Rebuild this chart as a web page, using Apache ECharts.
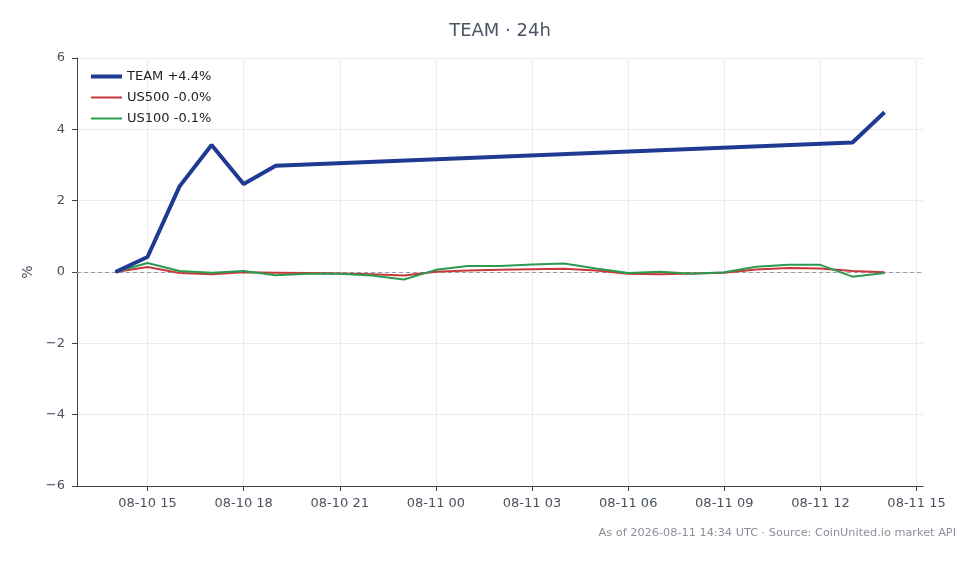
<!DOCTYPE html>
<html>
<head>
<meta charset="utf-8">
<title>TEAM · 24h</title>
<script src="https://cdn.jsdelivr.net/npm/echarts@6/dist/echarts.min.js"></script>
<style>
  html, body { margin: 0; padding: 0; background: #fff; }
  #chart { width: 980px; height: 564px; }
</style>
</head>
<body>
<div id="chart"></div>
<script>
// hourly timestamps (UTC), 08-10 14:00 .. 08-11 14:00
const hours = [
  "2026-08-10T14:00Z", "2026-08-10T15:00Z", "2026-08-10T16:00Z", "2026-08-10T17:00Z",
  "2026-08-10T18:00Z", "2026-08-10T19:00Z", "2026-08-10T20:00Z", "2026-08-10T21:00Z",
  "2026-08-10T22:00Z", "2026-08-10T23:00Z", "2026-08-11T00:00Z", "2026-08-11T01:00Z",
  "2026-08-11T02:00Z", "2026-08-11T03:00Z", "2026-08-11T04:00Z", "2026-08-11T05:00Z",
  "2026-08-11T06:00Z", "2026-08-11T07:00Z", "2026-08-11T08:00Z", "2026-08-11T09:00Z",
  "2026-08-11T10:00Z", "2026-08-11T11:00Z", "2026-08-11T12:00Z", "2026-08-11T13:00Z",
  "2026-08-11T14:00Z"
];

// TEAM only has quotes at these hours
const teamHours = [
  "2026-08-10T14:00Z", "2026-08-10T15:00Z", "2026-08-10T16:00Z", "2026-08-10T17:00Z",
  "2026-08-10T18:00Z", "2026-08-10T19:00Z", "2026-08-11T13:00Z", "2026-08-11T14:00Z"
];
const teamValues = [0, 0.42, 2.4, 3.56, 2.47, 2.98, 3.63, 4.48];

const us500Values = [
  0, 0.14, -0.03, -0.06, -0.01, -0.02, -0.03, -0.04, -0.06, -0.1, 0.01, 0.04,
  0.06, 0.08, 0.09, 0.04, -0.05, -0.06, -0.04, -0.02, 0.07, 0.11, 0.1, 0.03, -0.01
];
const us100Values = [
  0, 0.25, 0.03, -0.02, 0.03, -0.09, -0.05, -0.05, -0.1, -0.21, 0.06, 0.17,
  0.17, 0.21, 0.24, 0.1, -0.03, 0.01, -0.05, -0.01, 0.15, 0.2, 0.2, -0.13, -0.03
];

const xTicks = [
  "2026-08-10T15:00Z", "2026-08-10T18:00Z", "2026-08-10T21:00Z", "2026-08-11T00:00Z",
  "2026-08-11T03:00Z", "2026-08-11T06:00Z", "2026-08-11T09:00Z", "2026-08-11T12:00Z",
  "2026-08-11T15:00Z"
];

const seriesNames = ["TEAM +4.4%", "US500 -0.0%", "US100 -0.1%"];

const t = s => Date.parse(s);
const pad = n => (n < 10 ? "0" : "") + n;
const span = t(hours[hours.length - 1]) - t(hours[0]);

const axisColor = "#3f4653";
const labelColor = "#4a5260";
const font = "DejaVu Sans";

const myChart = echarts.init(document.getElementById("chart"));

let option = {
  animation: false,
  textStyle: { fontFamily: font },
  grid: { left: 77, right: 57, top: 58, bottom: 78 },
  graphic: [
    {
      type: "text",
      x: 500, y: 31,
      style: {
        text: "TEAM · 24h",
        fontFamily: font, fontSize: 18,
        fill: "#4a5566",
        textAlign: "center", textVerticalAlign: "middle",
      },
    },
    {
      type: "text",
      right: 24, top: 528,
      style: {
        text: "As of 2026-08-11 14:34 UTC · Source: CoinUnited.io market API",
        fontFamily: font, fontSize: 11.3,
        fill: "#8a8f98",
      },
    },
  ],
  legend: {
    orient: "vertical",
    left: 86,
    top: 65,
    itemWidth: 31,
    itemHeight: 14,
    itemGap: 8,
    textStyle: { fontFamily: font, fontSize: 13, color: "#222" },
    data: [
      { name: seriesNames[0], itemStyle: { color: "#1f3a93" }, icon: "path://M0,5L31,5L31,9L0,9Z" },
      { name: seriesNames[1], itemStyle: { color: "#c8373a" }, icon: "path://M0,6L31,6L31,8L0,8Z" },
      { name: seriesNames[2], itemStyle: { color: "#2b9a51" }, icon: "path://M0,6L31,6L31,8L0,8Z" },
    ],
  },
  xAxis: {
    type: "value",
    min: t(hours[0]) - span * 0.05,
    max: t(hours[hours.length - 1]) + span * 0.05,
    axisLine: { show: true, onZero: false, lineStyle: { color: axisColor, width: 1 } },
    axisTick: {
      show: true, length: 5,
      lineStyle: { color: axisColor },
      customValues: xTicks.map(t),
    },
    axisLabel: {
      color: labelColor, fontSize: 13, margin: 11,
      customValues: xTicks.map(t),
      formatter: v => {
        const d = new Date(v);
        return pad(d.getUTCMonth() + 1) + "-" + pad(d.getUTCDate()) + " " + pad(d.getUTCHours());
      },
    },
    splitLine: { show: true, lineStyle: { color: "#ebebeb", width: 1 } },
  },
  yAxis: {
    type: "value",
    min: -6,
    max: 6,
    interval: 2,
    name: "%",
    nameLocation: "middle",
    nameGap: 40,
    nameRotate: 90,
    nameTextStyle: { color: labelColor, fontSize: 14 },
    axisLine: { show: true, onZero: false, lineStyle: { color: axisColor, width: 1 } },
    axisTick: { show: true, length: 5, lineStyle: { color: axisColor } },
    axisLabel: {
      color: labelColor, fontSize: 13, margin: 12,
      formatter: v => (v < 0 ? "\u2212" + Math.abs(v) : String(v)),
    },
    splitLine: { show: true, lineStyle: { color: "#ebebeb", width: 1 } },
  },
  series: [
    {
      name: seriesNames[1],
      type: "line",
      symbol: "none",
      z: 3,
      lineStyle: { color: "#c8373a", width: 2 },
      itemStyle: { color: "#c8373a" },
      data: hours.map((h, i) => [t(h), us500Values[i]]),
      markLine: {
        silent: true,
        symbol: "none",
        label: { show: false },
        lineStyle: { color: "#959cab", type: [4, 3], width: 1 },
        data: [{ yAxis: 0 }],
        z: 1,
      },
    },
    {
      name: seriesNames[2],
      type: "line",
      symbol: "none",
      z: 4,
      lineStyle: { color: "#2b9a51", width: 2 },
      itemStyle: { color: "#2b9a51" },
      data: hours.map((h, i) => [t(h), us100Values[i]]),
    },
    {
      name: seriesNames[0],
      type: "line",
      symbol: "none",
      z: 5,
      lineStyle: { color: "#1f3a93", width: 4 },
      itemStyle: { color: "#1f3a93" },
      data: teamHours.map((h, i) => [t(h), teamValues[i]]),
    },
  ],
};

option && myChart.setOption(option);
</script>
</body>
</html>
